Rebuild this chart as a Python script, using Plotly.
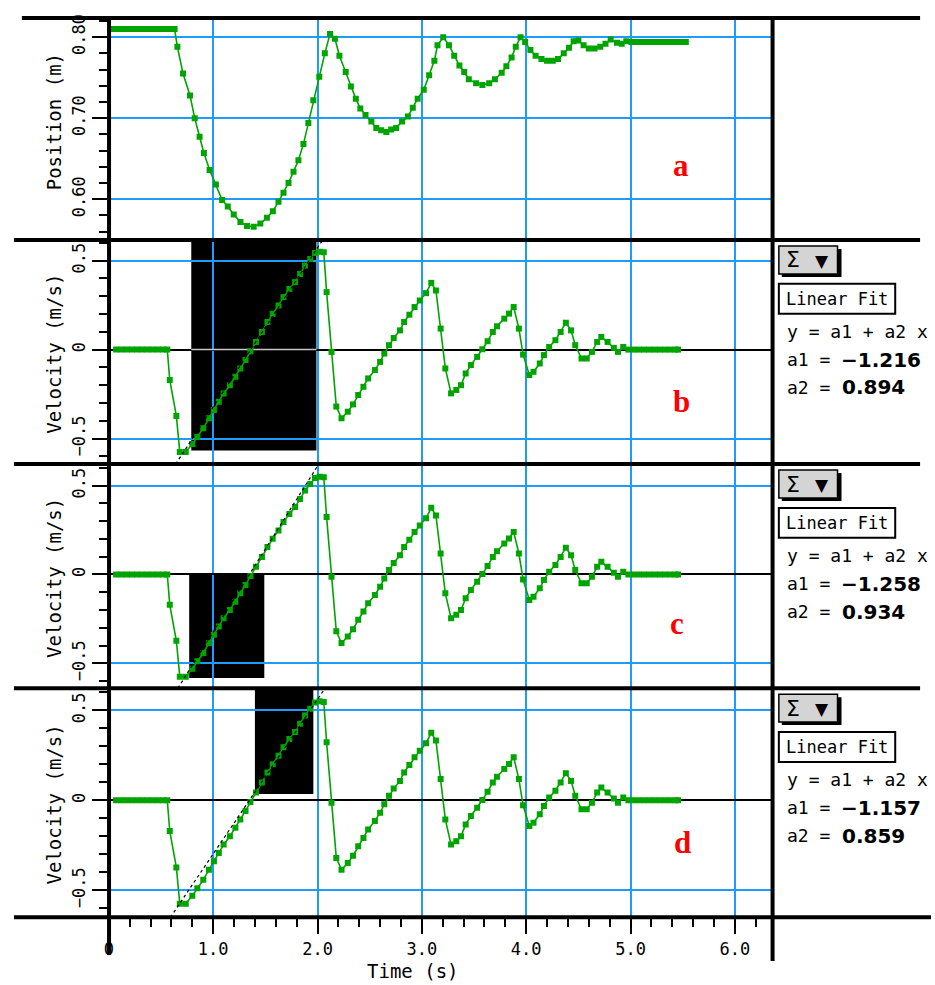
import plotly.graph_objects as go

# ---------------- data ----------------
pos_time = [0.04, 0.09, 0.14, 0.19, 0.24, 0.29, 0.34, 0.39, 0.44, 0.49, 0.54, 0.59, 0.63,
            0.657, 0.711, 0.778, 0.823, 0.870, 0.911, 0.966, 1.026, 1.086, 1.140, 1.197,
            1.261, 1.324, 1.388, 1.452, 1.515, 1.572, 1.626, 1.674, 1.722, 1.770, 1.817,
            1.865, 1.912, 1.960, 2.017, 2.070, 2.120, 2.167, 2.210, 2.270, 2.320, 2.367,
            2.410, 2.460, 2.516, 2.563, 2.610, 2.660, 2.706, 2.754, 2.810, 2.866, 2.913,
            2.960, 3.018, 3.070, 3.120, 3.150, 3.205, 3.260, 3.310, 3.360, 3.406, 3.450,
            3.520, 3.580, 3.645, 3.700, 3.765, 3.810, 3.860, 3.900, 3.946, 3.990, 4.040,
            4.090, 4.146, 4.200, 4.255, 4.305, 4.360, 4.410, 4.455, 4.500, 4.550, 4.600,
            4.655, 4.710, 4.760, 4.810, 4.870, 4.915, 4.960, 5.010, 5.060, 5.110, 5.160,
            5.210, 5.260, 5.310, 5.360, 5.410, 5.460, 5.500, 5.530]
pos_m = [0.810, 0.810, 0.810, 0.810, 0.810, 0.810, 0.810, 0.810, 0.810, 0.810, 0.810, 0.810, 0.810,
         0.788, 0.755, 0.728, 0.700, 0.677, 0.657, 0.636, 0.618, 0.599, 0.591, 0.581,
         0.572, 0.567, 0.566, 0.570, 0.577, 0.585, 0.597, 0.608, 0.620, 0.634, 0.648,
         0.668, 0.694, 0.722, 0.751, 0.780, 0.804, 0.798, 0.777, 0.757, 0.739, 0.724,
         0.712, 0.704, 0.696, 0.688, 0.685, 0.683, 0.686, 0.688, 0.696, 0.702, 0.713,
         0.724, 0.735, 0.753, 0.771, 0.790, 0.800, 0.790, 0.777, 0.765, 0.757, 0.748,
         0.743, 0.741, 0.743, 0.748, 0.756, 0.764, 0.775, 0.788, 0.800, 0.794, 0.784,
         0.777, 0.773, 0.771, 0.771, 0.773, 0.780, 0.787, 0.795, 0.796, 0.790, 0.786,
         0.786, 0.788, 0.792, 0.797, 0.793, 0.792, 0.795, 0.794, 0.794, 0.794, 0.794,
         0.794, 0.794, 0.794, 0.794, 0.794, 0.794, 0.794, 0.794]

vel_time = [0.07, 0.12, 0.17, 0.22, 0.27, 0.32, 0.37, 0.42, 0.47, 0.52, 0.56,
            0.584, 0.647, 0.680, 0.737, 0.800, 0.848, 0.905, 0.959, 1.007, 1.054, 1.100,
            1.160, 1.213, 1.260, 1.310, 1.357, 1.410, 1.467, 1.520, 1.570, 1.626, 1.674,
            1.730, 1.785, 1.833, 1.880, 1.930, 1.976, 2.020, 2.060, 2.087, 2.134, 2.180,
            2.230, 2.290, 2.340, 2.390, 2.440, 2.485, 2.550, 2.600, 2.640, 2.685, 2.730,
            2.790, 2.830, 2.880, 2.930, 2.980, 3.040, 3.090, 3.135, 3.180, 3.225, 3.280,
            3.330, 3.375, 3.420, 3.470, 3.530, 3.580, 3.630, 3.680, 3.720, 3.790, 3.835,
            3.880, 3.930, 3.970, 4.030, 4.070, 4.130, 4.170, 4.220, 4.280, 4.330, 4.380,
            4.430, 4.470, 4.530, 4.580, 4.630, 4.680, 4.720, 4.780, 4.840, 4.880, 4.930,
            4.980, 5.030, 5.080, 5.130, 5.180, 5.230, 5.280, 5.330, 5.380, 5.430, 5.455]
vel_ms = [0.0, 0.0, 0.0, 0.0, 0.0, 0.0, 0.0, 0.0, 0.0, 0.0, 0.0,
          -0.171, -0.373, -0.575, -0.575, -0.531, -0.489, -0.442, -0.386, -0.339, -0.293, -0.246,
          -0.200, -0.153, -0.106, -0.059, -0.009, 0.043, 0.099, 0.155, 0.201, 0.248, 0.295,
          0.341, 0.379, 0.425, 0.472, 0.509, 0.543, 0.550, 0.547, 0.323, -0.013, -0.320,
          -0.386, -0.349, -0.308, -0.255, -0.209, -0.162, -0.115, -0.069, -0.022, 0.025, 0.065,
          0.108, 0.155, 0.196, 0.239, 0.276, 0.317, 0.375, 0.332, 0.118, -0.106, -0.246,
          -0.227, -0.200, -0.134, -0.087, -0.041, 0.002, 0.047, 0.099, 0.131, 0.174, 0.202,
          0.239, 0.118, -0.028, -0.143, -0.125, -0.078, -0.031, 0.015, 0.053, 0.099, 0.151,
          0.108, 0.025, -0.050, -0.050, -0.013, 0.043, 0.071, 0.043, 0.010, -0.013, 0.015,
          0.0, 0.0, 0.0, 0.0, 0.0, 0.0, 0.0, 0.0, 0.0, 0.0, 0.0]

# linear fits for panels b, c, d
fit_a1 = [-1.216, -1.258, -1.157]
fit_a2 = [0.894, 0.934, 0.859]
fit_a1_text = ["−1.216", "−1.258", "−1.157"]
fit_a2_text = ["0.894", "0.934", "0.859"]
# selected (fitted) region boxes: time limits and velocity limits (None = top of panel)
sel_t0 = [0.79, 0.77, 1.40]
sel_t1 = [1.99, 1.49, 1.96]
sel_vlo = [-0.567, -0.582, 0.035]
sel_vhi = [None, 0.0, None]

panel_letters = ["a", "b", "c", "d"]

time_tickvals = [0, 1, 2, 3, 4, 5, 6]
time_ticktext = ["0", "1.0", "2.0", "3.0", "4.0", "5.0", "6.0"]
pos_tickvals = [0.6, 0.7, 0.8]
pos_ticktext = ["0.60", "0.70", "0.80"]
vel_tickvals = [-0.5, 0, 0.5]
vel_ticktext = ["−0.5", "0", "0.5"]

# ---------------- geometry / style ----------------
W, H = 935, 985


def px(x):
    return x / W


def py(y):
    return 1 - y / H


X_L, X_R = 104.4, 771.7
panel_px = [(14, 237), (237, 462), (462, 687), (687, 917)]
y_ranges = [[0.5496, 0.8237], [-0.6435, 0.6156], [-0.640, 0.621], [-0.650, 0.623]]
x_range = [0, (X_R - X_L) / 104.9]

GREEN = "#00a400"
BLUE = "#1e9bff"
FONT = "DejaVu Sans Mono"

fig = go.Figure()

# position
fig.add_trace(go.Scatter(x=pos_time, y=pos_m, mode="lines+markers",
                         line=dict(color=GREEN, width=1.6),
                         marker=dict(symbol="square", size=6, color=GREEN),
                         xaxis="x", yaxis="y", showlegend=False))

for k in range(3):
    xa = "x%d" % (k + 2)
    ya = "y%d" % (k + 2)
    yr = y_ranges[k + 1]
    if k == 0:
        fig.add_trace(go.Scatter(x=[sel_t0[k], sel_t1[k]], y=[0, 0], mode="lines",
                                 line=dict(color="#c8c8c8", width=1.5),
                                 xaxis=xa, yaxis=ya, showlegend=False, hoverinfo="skip"))
    fig.add_trace(go.Scatter(x=vel_time, y=vel_ms, mode="lines+markers",
                             line=dict(color=GREEN, width=1.6),
                             marker=dict(symbol="square", size=6, color=GREEN),
                             xaxis=xa, yaxis=ya, showlegend=False))
    tb = (yr[0] - fit_a1[k]) / fit_a2[k]
    tt = (yr[1] - fit_a1[k]) / fit_a2[k]
    fig.add_trace(go.Scatter(x=[tb, tt], y=[fit_a1[k] + fit_a2[k] * tb, fit_a1[k] + fit_a2[k] * tt],
                             mode="lines", line=dict(color="black", width=1.2, dash="dot"),
                             xaxis=xa, yaxis=ya, showlegend=False, hoverinfo="skip"))

layout = dict(width=W, height=H, margin=dict(l=0, r=0, t=0, b=0), autosize=False,
              paper_bgcolor="white", plot_bgcolor="white", showlegend=False,
              font=dict(family=FONT, size=17, color="black"))

for i in range(4):
    s = "" if i == 0 else str(i + 1)
    top, bot = panel_px[i]
    xa = dict(domain=[px(X_L), px(X_R)], range=x_range, anchor="y" + s,
              tickmode="array", tickvals=time_tickvals, ticktext=time_ticktext,
              showgrid=True, gridcolor=BLUE, gridwidth=2, zeroline=False, showline=False,
              fixedrange=True)
    if i == 3:
        xa.update(ticks="outside", ticklen=16, tickwidth=2, tickcolor="black",
                  showticklabels=True, tickfont=dict(family=FONT, size=17),
                  minor=dict(tickmode="linear", tick0=0, dtick=0.2, ticks="outside",
                             ticklen=9, tickwidth=2, tickcolor="black", showgrid=False))
    else:
        xa.update(ticks="", showticklabels=False)
    if i == 0:
        tv, tt_, mdt = pos_tickvals, pos_ticktext, 0.02
    else:
        tv, tt_, mdt = vel_tickvals, vel_ticktext, 0.1
    ya = dict(domain=[py(bot), py(top)], range=y_ranges[i], anchor="x" + s,
              tickmode="array", tickvals=tv, ticktext=tt_, tickangle=-90,
              ticks="outside", ticklen=16, tickwidth=2, tickcolor="black",
              tickfont=dict(family=FONT, size=17),
              minor=dict(tickmode="linear", tick0=0, dtick=mdt, ticks="outside",
                         ticklen=9, tickwidth=2, tickcolor="black", showgrid=False),
              showgrid=True, gridcolor=BLUE, gridwidth=2, showline=False,
              zeroline=(i > 0), zerolinecolor="black", zerolinewidth=1.5, fixedrange=True)
    layout["xaxis" + s] = xa
    layout["yaxis" + s] = ya

shapes = []
# selection boxes (below grid)
for k in range(3):
    yr = y_ranges[k + 1]
    hi = yr[1] if sel_vhi[k] is None else sel_vhi[k]
    shapes.append(dict(type="rect", layer="below", xref="x%d" % (k + 2), yref="y%d" % (k + 2),
                       x0=sel_t0[k], x1=sel_t1[k], y0=sel_vlo[k], y1=hi,
                       fillcolor="black", line=dict(width=0)))


def pline(x0, y0, x1, y1, w=4, color="black"):
    return dict(type="line", xref="paper", yref="paper", x0=px(x0), y0=py(y0),
                x1=px(x1), y1=py(y1), line=dict(color=color, width=w), layer="above")


shapes.append(pline(17, 14, 920, 14))
for yy in (237, 462, 687):
    shapes.append(pline(9, yy, 920, yy))
shapes.append(pline(9, 917, 931, 917))
shapes.append(pline(104.6, 12, 104.6, 955))
shapes.append(pline(771.7, 12, 771.7, 961))


def prect(x0, y0, x1, y1, fill, lw=1.5, lc="black"):
    return dict(type="rect", xref="paper", yref="paper", x0=px(x0), y0=py(y0),
                x1=px(x1), y1=py(y1), fillcolor=fill,
                line=dict(color=lc, width=lw), layer="above")


annotations = []


def ptext(x, y, text, size=17, family=FONT, color="black", xanchor="left", angle=0):
    annotations.append(dict(xref="paper", yref="paper", x=px(x), y=py(y), text=text,
                            showarrow=False, xanchor=xanchor, yanchor="middle",
                            textangle=angle, font=dict(family=family, size=size, color=color)))


for k in range(3):
    top = panel_px[k + 1][0]
    # sigma button with shadow
    shapes.append(prect(781, top + 9, 841, top + 37, "black", lw=0))
    shapes.append(prect(778, top + 6, 837, top + 34, "#d4d4d4", lw=1.5))
    ptext(792, top + 20, "Σ", size=22, family="DejaVu Sans", xanchor="center")
    ptext(821, top + 21, "▼", size=17, family="DejaVu Sans", xanchor="center")
    # Linear Fit box
    shapes.append(prect(778, top + 44, 895, top + 74, "white", lw=2))
    ptext(836.5, top + 59.5, "Linear Fit", size=17, xanchor="center")
    ptext(784, top + 91.5, "y = a1 + a2 x", size=18)
    ptext(784, top + 120, "a1 =", size=18)
    ptext(838, top + 120, "<b>%s</b>" % fit_a1_text[k], size=20, family="DejaVu Sans")
    ptext(784, top + 148, "a2 =", size=18)
    ptext(839, top + 148, "<b>%s</b>" % fit_a2_text[k], size=20, family="DejaVu Sans")

# panel letters
letter_pos = [(680, 162), (680, 399), (676, 622), (681, 842)]
for (lx, ly), L in zip(letter_pos, panel_letters):
    ptext(lx, ly, "<b>%s</b>" % L, size=31, family="Liberation Serif", color="#ff0000",
          xanchor="center")

# axis titles
ptext(49, 118, "Position (m)", size=19, xanchor="center", angle=-90)
for k in range(3):
    t, b = panel_px[k + 1]
    ptext(49, (t + b) / 2 + 2, "Velocity (m/s)", size=19, xanchor="center", angle=-90)
ptext(410, 971, "Time (s)", size=19, xanchor="center")

layout["shapes"] = shapes
layout["annotations"] = annotations
fig.update_layout(**layout)

fig.write_html("out.html", config={"displayModeBar": False},
               post_script="document.body.style.margin='0';")
